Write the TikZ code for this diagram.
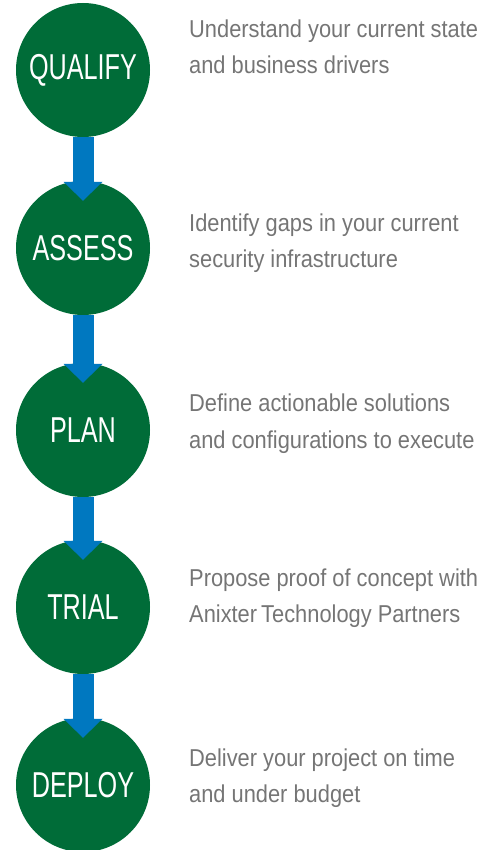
\documentclass[tikz,border=0pt]{standalone}
\usepackage{fontspec}
\usetikzlibrary{arrows.meta}
\newfontfamily\circfont[FakeStretch=0.70]{Liberation Sans}
\newfontfamily\bodyfont[FakeStretch=0.895]{Liberation Sans}
\definecolor{stepgreen}{RGB}{0,108,56}
\definecolor{flowblue}{RGB}{0,120,192}
\definecolor{descgray}{RGB}{117,117,117}
\tikzset{
  stepcircle/.style={circle, fill=stepgreen, minimum size=134pt, inner sep=0pt,
    text=white, font=\circfont\fontsize{36}{36}\selectfont},
  desc/.style={anchor=base west, inner sep=0pt, text=descgray,
    font=\bodyfont\fontsize{24.4}{30}\selectfont},
  flow/.style={draw=flowblue, line width=21pt,
    -{Triangle[width=39pt,length=19pt,line width=0pt]}}
}
\begin{document}
\begin{tikzpicture}[x=1pt,y=-1pt]
\useasboundingbox (0,0) rectangle (483,850);
\node[stepcircle] (c1) at (83,70) {QUALIFY};
\node[stepcircle] (c2) at (83,248) {ASSESS};
\node[stepcircle] (c3) at (83,430) {PLAN};
\node[stepcircle] (c4) at (83,607) {TRIAL};
\node[stepcircle] (c5) at (83,785) {DEPLOY};
\draw[flow] (c1.south) -- ([yshift=-20pt]c2.north);
\draw[flow] (c2.south) -- ([yshift=-20pt]c3.north);
\draw[flow] (c3.south) -- ([yshift=-20pt]c4.north);
\draw[flow] (c4.south) -- ([yshift=-20pt]c5.north);
\node[desc] (d1a) at (189,37.5) {Understand your current state};
\node[desc] (d1b) at (189,74) {and business drivers};
\node[desc] (d2a) at (189,231) {Identify gaps in your current};
\node[desc] (d2b) at (189,267) {security infrastructure};
\node[desc] (d3a) at (189,411) {Define actionable solutions};
\node[desc] (d3b) at (189,448) {and configurations to execute};
\node[desc] (d4a) at (189,586) {Propose proof of concept with};
\node[desc] (d4b) at (189,622) {Anixter\hspace{-2pt} Technology Partners};
\node[desc] (d5a) at (189,766) {Deliver your project on time};
\node[desc] (d5b) at (189,802) {and under budget};
\end{tikzpicture}
\end{document}
